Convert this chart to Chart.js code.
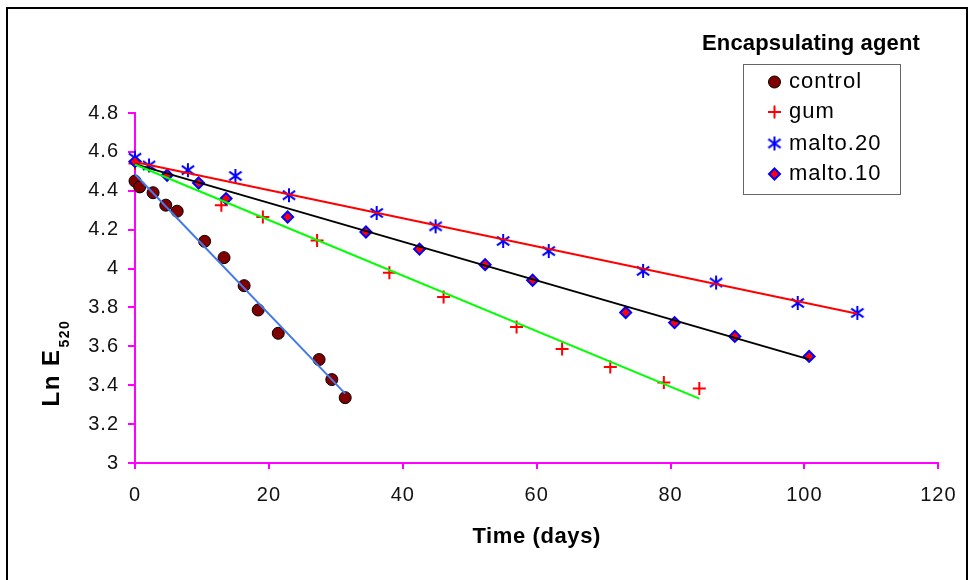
<!DOCTYPE html>
<html>
<head>
<meta charset="utf-8">
<script src="https://cdn.jsdelivr.net/npm/chart.js@4.4.1/dist/chart.umd.min.js"></script>
<style>
  html, body { margin: 0; padding: 0; background: #ffffff; }
  canvas { display: block; }
</style>
</head>
<body>
<canvas id="chart" width="969" height="580"></canvas>
<script>
// Storage time (days) against ln of absorbance at 520 nm, per encapsulating agent
const seriesNames = ['control', 'gum', 'malto.20', 'malto.10'];

const controlDays = [0, 0.7, 2.7, 4.6, 6.3, 10.4, 13.3, 16.3, 18.4, 21.4, 27.5, 29.4, 31.4];
const controlLnE  = [4.45, 4.42, 4.39, 4.326, 4.295, 4.14, 4.056, 3.912, 3.787, 3.667, 3.532, 3.429, 3.336];

const gumDays = [0, 12.9, 19.1, 27.2, 38.0, 46.1, 57.0, 63.8, 71.0, 79.0, 84.3];
const gumLnE  = [4.54, 4.326, 4.265, 4.144, 3.979, 3.854, 3.70, 3.586, 3.494, 3.414, 3.383];

const malto20Days = [0, 2.1, 7.9, 15.0, 23.0, 36.1, 44.9, 55.0, 61.8, 75.9, 86.8, 99.0, 107.9];
const malto20LnE  = [4.57, 4.53, 4.506, 4.476, 4.377, 4.286, 4.217, 4.142, 4.09, 3.988, 3.928, 3.823, 3.772];

const malto10Days = [0, 4.8, 9.5, 13.6, 22.8, 34.5, 42.5, 52.3, 59.4, 73.3, 80.6, 89.6, 100.7];
const malto10LnE  = [4.55, 4.48, 4.44, 4.36, 4.265, 4.188, 4.10, 4.02, 3.94, 3.774, 3.722, 3.651, 3.548];

// Linear fits (end points of each fitted line)
const controlFitDays = [0, 31.4];
const controlFitLnE  = [4.485, 3.357];
const gumFitDays = [0, 84.3];
const gumFitLnE  = [4.535, 3.331];
const malto20FitDays = [0, 107.9];
const malto20FitLnE  = [4.548, 3.768];
const malto10FitDays = [0, 100.7];
const malto10FitLnE  = [4.537, 3.533];

const xTicks = [0, 20, 40, 60, 80, 100, 120];
const yTicks = [3, 3.2, 3.4, 3.6, 3.8, 4, 4.2, 4.4, 4.6, 4.8];

const FONT = '"Liberation Sans", Arial, sans-serif';
const AXIS_PINK = '#FF00FF';

const pts = (xs, ys) => xs.map((x, i) => ({ x: x, y: ys[i] }));

// Asterisk marker: vertical stroke plus an X
function makeAsterisk(size, color) {
  const c = document.createElement('canvas');
  c.width = size; c.height = size;
  const g = c.getContext('2d');
  const m = size / 2, r = size / 2 - 1;
  g.strokeStyle = color; g.lineWidth = 2; g.lineCap = 'butt';
  g.beginPath();
  g.moveTo(m, m - r); g.lineTo(m, m + r);
  const dx = r * 0.88, dy = r * 0.62;
  g.moveTo(m - dx, m - dy); g.lineTo(m + dx, m + dy);
  g.moveTo(m + dx, m - dy); g.lineTo(m - dx, m + dy);
  g.stroke();
  return c;
}
const asterisk = makeAsterisk(16, '#0000FF');

const markerSets = [
  { label: seriesNames[0], data: pts(controlDays, controlLnE), order: 4,
    pointStyle: 'circle', pointRadius: 6, pointBackgroundColor: '#800000',
    pointBorderColor: '#000000', pointBorderWidth: 1 },
  { label: seriesNames[1], data: pts(gumDays, gumLnE), order: 3,
    pointStyle: 'cross', pointRadius: 6.5, pointBorderColor: '#FF0000',
    pointBackgroundColor: '#FF0000', pointBorderWidth: 2 },
  { label: seriesNames[2], data: pts(malto20Days, malto20LnE), order: 2,
    pointStyle: asterisk, pointRadius: 8 },
  { label: seriesNames[3], data: pts(malto10Days, malto10LnE), order: 1,
    pointStyle: 'rectRot', pointRadius: 5.5, pointBackgroundColor: '#FF0000',
    pointBorderColor: '#0000FF', pointBorderWidth: 2 }
].map(d => Object.assign({ showLine: false, clip: false, pointHoverRadius: d.pointRadius }, d));

const fitSets = [
  { label: 'control fit', data: pts(controlFitDays, controlFitLnE), borderColor: '#4479EA' },
  { label: 'gum fit', data: pts(gumFitDays, gumFitLnE), borderColor: '#00FF00' },
  { label: 'malto.10 fit', data: pts(malto10FitDays, malto10FitLnE), borderColor: '#000000' },
  { label: 'malto.20 fit', data: pts(malto20FitDays, malto20FitLnE), borderColor: '#FF0000' }
].map(d => Object.assign({ showLine: true, pointRadius: 0, borderWidth: 2, fill: false, order: 0, clip: false }, d));

function drawLegendMarker(ctx, kind, x, y) {
  ctx.save();
  if (kind === 0) {
    ctx.beginPath(); ctx.arc(x, y, 6, 0, Math.PI * 2);
    ctx.fillStyle = '#800000'; ctx.fill();
    ctx.lineWidth = 1; ctx.strokeStyle = '#000'; ctx.stroke();
  } else if (kind === 1) {
    ctx.beginPath();
    ctx.moveTo(x - 6.5, y); ctx.lineTo(x + 6.5, y);
    ctx.moveTo(x, y - 6.5); ctx.lineTo(x, y + 6.5);
    ctx.lineWidth = 2; ctx.strokeStyle = '#FF0000'; ctx.stroke();
  } else if (kind === 2) {
    ctx.drawImage(asterisk, x - asterisk.width / 2, y - asterisk.height / 2);
  } else {
    ctx.beginPath();
    ctx.moveTo(x, y - 5.5); ctx.lineTo(x + 5.5, y); ctx.lineTo(x, y + 5.5); ctx.lineTo(x - 5.5, y);
    ctx.closePath();
    ctx.fillStyle = '#FF0000'; ctx.fill();
    ctx.lineWidth = 2; ctx.strokeStyle = '#0000FF'; ctx.stroke();
  }
  ctx.restore();
}

const decor = {
  id: 'decor',
  beforeDraw(chart) {
    chart.ctx.letterSpacing = '1px';
  },
  afterDraw(chart) {
    const ctx = chart.ctx;
    const area = chart.chartArea;
    ctx.save();

    // outer frame
    ctx.fillStyle = '#000000';
    ctx.fillRect(6, 7, 2, 580);
    ctx.fillRect(6, 7, 962, 2);
    ctx.fillRect(966, 7, 2, 580);

    // x axis title
    ctx.fillStyle = '#000000';
    ctx.letterSpacing = '0.6px';
    ctx.font = 'bold 22px ' + FONT;
    ctx.textAlign = 'center';
    ctx.textBaseline = 'middle';
    ctx.fillText('Time (days)', (area.left + area.right) / 2, 537);

    // y axis title, with subscript
    ctx.save();
    ctx.translate(58.5, 406.5);
    ctx.rotate(-Math.PI / 2);
    ctx.textAlign = 'left';
    ctx.textBaseline = 'alphabetic';
    ctx.letterSpacing = '1.5px';
    ctx.font = 'bold 24px ' + FONT;
    ctx.fillText('Ln E', 0, 0);
    const mainWidth = ctx.measureText('Ln E').width;
    ctx.letterSpacing = '1.5px';
    ctx.font = 'bold 14px ' + FONT;
    ctx.fillText('520', mainWidth + 1, 10);
    ctx.restore();

    // legend
    ctx.letterSpacing = '0.15px';
    ctx.font = 'bold 22px ' + FONT;
    ctx.textAlign = 'center';
    ctx.textBaseline = 'middle';
    ctx.fillText('Encapsulating agent', 811, 44);

    ctx.fillStyle = '#ffffff';
    ctx.fillRect(743.5, 64.5, 157, 130);
    ctx.strokeStyle = '#666666';
    ctx.lineWidth = 1;
    ctx.strokeRect(743.5, 64.5, 157, 130);

    const rowY = [82, 112, 143.5, 174];
    ctx.letterSpacing = '1px';
    ctx.font = '22px ' + FONT;
    ctx.textAlign = 'left';
    seriesNames.forEach((name, i) => {
      drawLegendMarker(ctx, i, 774.5, rowY[i]);
      ctx.fillStyle = '#000000';
      ctx.fillText(name, 789, rowY[i]);
    });

    ctx.restore();
  }
};

const tickFont = { family: FONT, size: 20 };

new Chart(document.getElementById('chart'), {
  type: 'scatter',
  data: { datasets: markerSets.concat(fitSets) },
  options: {
    responsive: false,
    animation: false,
    events: [],
    layout: { padding: { top: 113, right: 22, left: 0, bottom: 0 } },
    plugins: {
      legend: { display: false },
      tooltip: { enabled: false },
      title: { display: false }
    },
    scales: {
      x: {
        type: 'linear',
        min: 0, max: 120,
        afterBuildTicks: s => { s.ticks = xTicks.map(v => ({ value: v })); },
        afterFit: s => { s.height = 117; },
        grid: { display: true, drawOnChartArea: false, drawTicks: true, tickLength: 6, color: AXIS_PINK, lineWidth: 2 },
        border: { display: true, color: AXIS_PINK, width: 2 },
        ticks: { color: '#111111', font: tickFont, padding: 14, maxRotation: 0, autoSkip: false,
                 callback: v => String(v) }
      },
      y: {
        type: 'linear',
        min: 3, max: 4.8,
        afterBuildTicks: s => { s.ticks = yTicks.map(v => ({ value: v })); },
        afterFit: s => { s.width = 135; },
        grid: { display: true, drawOnChartArea: false, drawTicks: true, tickLength: 7, color: AXIS_PINK, lineWidth: 2 },
        border: { display: true, color: AXIS_PINK, width: 2 },
        ticks: { color: '#111111', font: tickFont, padding: 9, autoSkip: false,
                 callback: v => String(v) }
      }
    }
  },
  plugins: [decor]
});
</script>
</body>
</html>
